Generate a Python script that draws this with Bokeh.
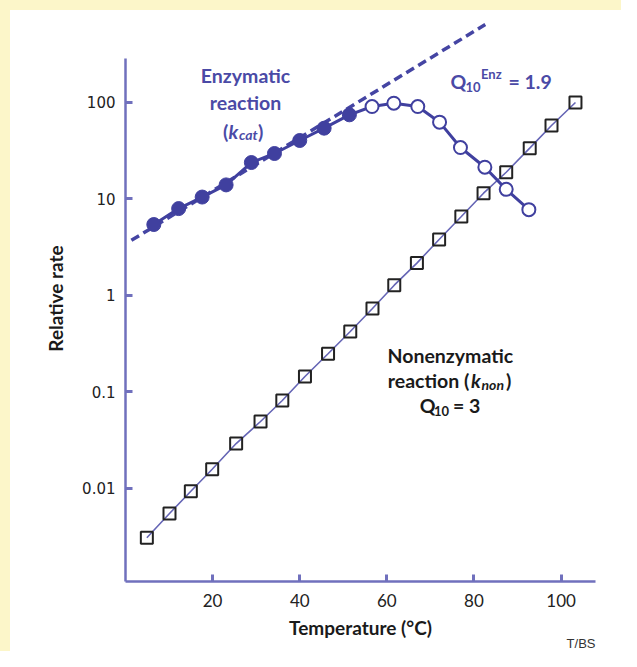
import math
from bokeh.plotting import figure
from bokeh.models import Range1d, FixedTicker, CustomJSTickFormatter, Title
from bokeh.core.properties import value
from bokeh.embed import file_html
from bokeh.resources import INLINE

# ---------------- data ----------------
enz_fit_temp = [6.5, 12.2, 17.6, 23.1, 28.9, 34.2, 40.0, 45.6, 51.4]
enz_fit_rate = [5.4, 7.9, 10.4, 13.9, 23.7, 29.4, 40.1, 53.8, 74.0]
enz_denat_temp = [56.6, 61.6, 67.1, 72.1, 76.9, 82.5, 87.4, 92.6]
enz_denat_rate = [90.2, 97.6, 90.2, 62.1, 33.9, 21.2, 12.5, 7.7]
arrhenius_temp = [1.35, 82.6]
arrhenius_rate = [3.7, 638.0]
non_temp = [4.9, 10.1, 15.0, 19.9, 25.4, 31.0, 36.0, 41.2, 46.5, 51.6,
            56.7, 61.7, 66.9, 72.0, 77.1, 82.2, 87.4, 92.8, 97.8, 103.3]
non_rate = [0.00306, 0.00547, 0.0093, 0.0157, 0.029, 0.0491, 0.0811, 0.1436,
            0.247, 0.421, 0.728, 1.27, 2.15, 3.78, 6.54, 11.4, 18.8, 33.4, 57.4, 99.3]
x_ticks = [20, 40, 60, 80, 100]
y_ticks = [0.01, 0.1, 1, 10, 100]

# ---------------- geometry / styles ----------------
W, H = 621, 651
FL, FR, FT, FB = 125, 595, 15, 581      # plot frame in canvas pixels
AXIS_TOP = 58                           # y axis line starts here
DEC_PX, Y100_PX = 96.5, 101.7           # pixels per decade, pixel of 100

X0, X1 = 0.0, 107.9


def log_at(py):
    return 2 - (py - Y100_PX) / DEC_PX


Y0, Y1 = 10 ** log_at(FB), 10 ** log_at(FT)
Y_AXIS_TOP = 10 ** log_at(AXIS_TOP)

AXIS = "#7070bd"
ENZ = "#40409f"
ENZ_TXT = "#4a4aa6"
NON_LINE = "#6565b5"
BOLD_FONT = "Lato"
YELLOW = "#fcf6c9"

p = figure(width=W, height=H, y_axis_type="log",
           x_range=Range1d(X0, X1), y_range=Range1d(Y0, Y1),
           output_backend="svg", toolbar_location=None,
           min_border_left=FL, min_border_right=W - FR,
           min_border_top=FT, min_border_bottom=H - FB)
p.outline_line_color = None
p.grid.visible = False
p.background_fill_color = "white"
p.border_fill_color = None
p.styles = {"background": f"linear-gradient(to bottom, {YELLOW} 10px, transparent 10px), "
                          f"linear-gradient(to right, {YELLOW} 10px, white 10px)"}

for ax in (p.xaxis[0], p.yaxis[0]):
    ax.axis_line_color = AXIS
    ax.axis_line_width = 2.5
    ax.major_tick_line_color = AXIS
    ax.major_tick_line_width = 3
    ax.major_tick_in = 7
    ax.major_tick_out = 0
    ax.minor_tick_line_color = None
    ax.major_label_text_color = "#222222"
    ax.axis_label_text_font = BOLD_FONT
    ax.axis_label_text_font_style = "bold"
    ax.axis_label_text_font_size = "19px"
    ax.axis_label_text_color = "#1a1a1a"

p.xaxis.ticker = FixedTicker(ticks=x_ticks)
p.xaxis.major_label_text_font = "Lato"
p.xaxis.major_label_text_font_size = "17px"
p.xaxis.major_label_standoff = 12
p.xaxis.axis_label = "Temperature (°C)"
p.xaxis.axis_label_standoff = 6

p.yaxis.ticker = FixedTicker(ticks=y_ticks, minor_ticks=[])
p.yaxis.formatter = CustomJSTickFormatter(code="return String(tick);")
p.yaxis.major_label_text_font = "DejaVu Sans"
p.yaxis.major_label_text_font_size = "15px"
p.yaxis.major_label_standoff = 10
p.yaxis.axis_label = "Relative rate"
p.yaxis.axis_label_standoff = 12
p.yaxis.bounds = (Y0, Y_AXIS_TOP)

# ---------------- marks ----------------
p.line(non_temp, non_rate, line_color=NON_LINE, line_width=1.6)
p.scatter(non_temp, non_rate, marker="square", size=12, fill_color=None,
          line_color="#222222", line_width=2)

p.line(arrhenius_temp, arrhenius_rate, line_color="#4545a3", line_width=3.5,
       line_dash="9 5")
enz_temp = enz_fit_temp + enz_denat_temp
enz_rate = enz_fit_rate + enz_denat_rate
p.line(enz_temp, enz_rate, line_color=ENZ, line_width=3)
p.scatter(enz_fit_temp, enz_fit_rate, size=14, fill_color=ENZ, line_color=ENZ)
p.scatter(enz_denat_temp, enz_denat_rate, size=13, fill_color="white",
          line_color=ENZ, line_width=2)


# ---------------- annotation texts ----------------
def to_data(px, py):
    x = X0 + (px - FL) / (FR - FL) * (X1 - X0)
    return x, 10 ** log_at(py)


def put(txt, px, py, size, color, style="bold", align="left", font=BOLD_FONT):
    x, y = to_data(px, py)
    p.text([x], [y], text=[txt], text_font=value(font), text_font_size=size,
           text_font_style=style, text_color=color, text_align=align,
           text_baseline="alphabetic")


put("Enzymatic", 245, 75, "19.5px", ENZ_TXT, align="center")
put("reaction", 245, 101.5, "19.5px", ENZ_TXT, align="center")
put("(", 222.5, 130.5, "19.5px", ENZ_TXT)
put("k", 228, 130.5, "19.5px", ENZ_TXT, style="bold italic")
put("cat", 238.5, 134, "14px", ENZ_TXT, style="bold italic")
put(")", 257.5, 130.5, "19.5px", ENZ_TXT)

put("Q", 450, 80.5, "19.5px", ENZ_TXT)
put("10", 465, 86, "13px", ENZ_TXT)
put("Enz", 480.5, 73, "13px", ENZ_TXT)
put("= 1.9", 508, 80.5, "19.5px", ENZ_TXT)

put("Nonenzymatic", 449.8, 354.5, "19.5px", "#1a1a1a", align="center")
put("reaction (", 387.3, 380, "19.5px", "#1a1a1a")
put("k", 470.5, 380, "19.5px", "#1a1a1a", style="bold italic")
put("non", 481, 384, "14px", "#1a1a1a", style="bold italic")
put(")", 505.5, 380, "19.5px", "#1a1a1a")
put("Q", 419.3, 405, "19.5px", "#1a1a1a")
put("10", 433.5, 410, "13px", "#1a1a1a")
put("= 3", 452.5, 405, "19.5px", "#1a1a1a")

# journal mark below the plot
mark = Title(text="T/BS", align="right", text_font="Liberation Sans",
             text_font_size="13px", text_font_style="normal",
             text_color="#333333", standoff=-15)
p.add_layout(mark, "below")

open("out.html", "w").write(file_html(p, INLINE))
